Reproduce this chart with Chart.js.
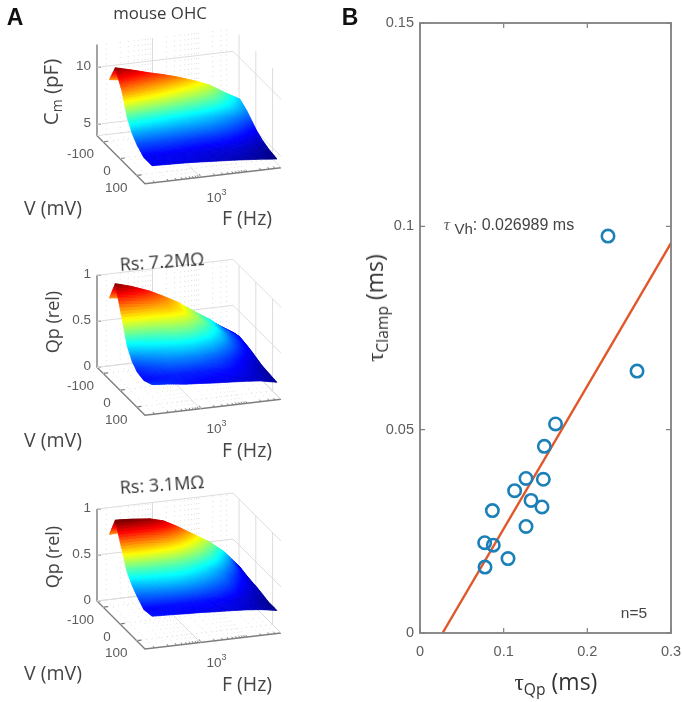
<!DOCTYPE html>
<html>
<head>
<meta charset="utf-8">
<script src="https://cdn.jsdelivr.net/npm/chart.js@4"></script>
<style>
  body { margin: 0; background: #fff; width: 682px; height: 702px; overflow: hidden; position: relative; }
  canvas { position: absolute; filter: blur(0.4px); }
  .wrap { position: absolute; }
  .lbl { position: absolute; white-space: nowrap; transform: translate(-50%, -50%); line-height: 1; }
  .lbl sub { font-size: 0.68em; vertical-align: -0.3em; line-height: 0; }
</style>
</head>
<body>
<script>
// panel A surfaces
const freqs = [90, 200, 500, 1000, 2000, 5000, 10000, 20000, 45000];
const volts = [-105, -70, -30, 0, 30, 60, 100, 150];
const cmValues = [
    [9.3, 9.1, 8.8, 8.5, 8.2, 7.8, 7.4, 6.9, 6.2],
    [10.85, 10.5, 10.05, 9.75, 9.4, 8.85, 8.35, 7.6, 6.8],
    [9.4, 9.0, 8.6, 8.3, 8.0, 7.7, 7.4, 7.0, 6.4],
    [7.6, 7.4, 7.2, 7.05, 6.95, 6.8, 6.6, 6.35, 5.95],
    [6.6, 6.55, 6.5, 6.45, 6.4, 6.3, 6.15, 5.9, 5.5],
    [6.0, 5.98, 5.95, 5.9, 5.85, 5.8, 5.7, 5.5, 5.2],
    [5.5, 5.5, 5.48, 5.45, 5.4, 5.35, 5.3, 5.15, 4.95],
    [5.5, 5.45, 5.4, 5.33, 5.25, 5.15, 5.05, 4.95, 4.8],
];
const qpRs72 = [
    [0.8, 0.78, 0.74, 0.7, 0.64, 0.54, 0.46, 0.37, 0.26],
    [1.02, 0.97, 0.895, 0.82, 0.74, 0.605, 0.51, 0.39, 0.28],
    [0.72, 0.72, 0.73, 0.74, 0.71, 0.59, 0.49, 0.37, 0.265],
    [0.48, 0.52, 0.56, 0.6, 0.6, 0.52, 0.44, 0.34, 0.25],
    [0.36, 0.41, 0.45, 0.47, 0.47, 0.43, 0.37, 0.3, 0.23],
    [0.3, 0.34, 0.38, 0.385, 0.38, 0.35, 0.31, 0.26, 0.21],
    [0.28, 0.29, 0.3, 0.3, 0.3, 0.29, 0.27, 0.24, 0.2],
    [0.325, 0.31, 0.285, 0.275, 0.262, 0.25, 0.24, 0.225, 0.19],
];
const qpRs31 = [
    [0.77, 0.78, 0.76, 0.73, 0.68, 0.58, 0.49, 0.4, 0.29],
    [0.99, 0.98, 0.96, 0.92, 0.84, 0.72, 0.63, 0.51, 0.32],
    [0.74, 0.75, 0.74, 0.72, 0.68, 0.6, 0.52, 0.42, 0.3],
    [0.56, 0.58, 0.58, 0.58, 0.56, 0.5, 0.44, 0.37, 0.29],
    [0.465, 0.485, 0.5, 0.5, 0.48, 0.44, 0.4, 0.34, 0.283],
    [0.4, 0.42, 0.43, 0.43, 0.42, 0.39, 0.36, 0.31, 0.27],
    [0.33, 0.335, 0.34, 0.34, 0.34, 0.33, 0.31, 0.29, 0.25],
    [0.347, 0.34, 0.33, 0.325, 0.315, 0.305, 0.295, 0.28, 0.25],
];
const vTicks = [-100, 0, 100];
const fMajor = [1000];
const fMinor = [100, 200, 300, 400, 500, 600, 700, 800, 900, 2000, 3000, 4000, 5000, 6000, 7000, 8000, 9000, 10000, 20000, 30000, 40000];
const cmTicks = [5, 10];
const qpTicks = [0, 0.5, 1];

// panel B scatter
const tauQp = [0.162, 0.1486, 0.1474, 0.1267, 0.1131, 0.1327, 0.1458, 0.0865, 0.1267, 0.0773, 0.0876, 0.1052, 0.0777, 0.2247, 0.2594];
const tauClamp = [0.0514, 0.0459, 0.0378, 0.038, 0.035, 0.0326, 0.031, 0.0301, 0.0262, 0.0222, 0.0216, 0.0183, 0.0162, 0.0976, 0.0644];
const fitX = [0.026989, 0.3];
const fitY = [0, 0.0959];

const GRID = "#dcdcdc";
const AXIS3D = "#7d7d7d";
const TICKTXT = "#5c5c5c";
const SANS = '"Liberation Sans", Arial, sans-serif';

function jet(t) {
    const c = (x) => Math.round(255 * Math.max(0, Math.min(1, x)));
    t = Math.max(0, Math.min(1, t));
    const r = 1.5 - Math.abs(4 * t - 3);
    const g = 1.5 - Math.abs(4 * t - 2);
    const b = 1.5 - Math.abs(4 * t - 1);
    return `rgb(${c(r)},${c(g)},${c(b)})`;
}

// fills the grid spanned by the row datasets, MATLAB "shading interp" style
const surfacePlugin = {
    id: "surface",
    afterDatasetsDraw(chart) {
        const cfg = chart.data.surface;
        const rows = [];
        chart.data.datasets.forEach((d, i) => {
            if (d.zRow) rows.push({ pts: chart.getDatasetMeta(i).data, z: d.zRow });
        });
        const ctx = chart.ctx;
        const n = 10;
        ctx.save();
        ctx.lineWidth = 0.7;
        for (let r = 0; r < rows.length - 1; r++) {
            for (let c = 0; c < rows[r].pts.length - 1; c++) {
                const p = [rows[r].pts[c], rows[r].pts[c + 1], rows[r + 1].pts[c + 1], rows[r + 1].pts[c]];
                const z = [rows[r].z[c], rows[r].z[c + 1], rows[r + 1].z[c + 1], rows[r + 1].z[c]];
                const at = (a, b, k) => (1 - b) * ((1 - a) * k(0) + a * k(1)) + b * ((1 - a) * k(3) + a * k(2));
                for (let i = 0; i < n; i++) {
                    for (let j = 0; j < n; j++) {
                        const corner = [[i / n, j / n], [(i + 1) / n, j / n], [(i + 1) / n, (j + 1) / n], [i / n, (j + 1) / n]];
                        const zz = at((i + 0.5) / n, (j + 0.5) / n, (k) => z[k]);
                        const col = jet((zz - cfg.cmin) / (cfg.cmax - cfg.cmin));
                        ctx.fillStyle = col;
                        ctx.strokeStyle = col;
                        ctx.beginPath();
                        corner.forEach(([a, b], q) => {
                            const x = at(a, b, (k) => p[k].x);
                            const y = at(a, b, (k) => p[k].y);
                            if (q === 0) ctx.moveTo(x, y);
                            else ctx.lineTo(x, y);
                        });
                        ctx.closePath();
                        ctx.fill();
                        ctx.stroke();
                    }
                }
            }
        }
        ctx.restore();
    },
    afterDraw(chart) {
        const cfg = chart.data.surface;
        const ctx = chart.ctx;
        const sx = chart.scales.x;
        const sy = chart.scales.y;
        const px = (pt) => [sx.getPixelForValue(pt.x), sy.getPixelForValue(pt.y)];
        ctx.save();
        ctx.fillStyle = TICKTXT;
        ctx.font = "13.5px " + SANS;
        ctx.textBaseline = "middle";
        ctx.textAlign = "right";
        cfg.zTicks.forEach((t) => {
            const [x, y] = px(cfg.proj(freqsLow, vBack, t));
            ctx.fillText(String(t), x - 6, y - 1);
        });
        vTicks.forEach((t) => {
            const [x, y] = px(cfg.proj(freqsLow, t, cfg.zFloor));
            ctx.fillText(String(t), x - 9, y + 13);
        });
        const [tx, ty] = px(cfg.proj(1000, vFront, cfg.zFloor));
        ctx.textAlign = "left";
        ctx.fillText("10", tx + 6, ty + 21);
        ctx.font = "9px " + SANS;
        ctx.fillText("3", tx + 21, ty + 15);
        ctx.restore();
    },
};

const freqsLow = Math.pow(10, 1.8);
const freqsHigh = Math.pow(10, 4.74);
const vBack = -136;
const vFront = 150;

function makeProj(base, zFloor, zUnit) {
    return (F, V, z) => {
        const f = (Math.log10(F) - 1.8) / 2.94;
        const v = (V - vBack) / (vFront - vBack);
        return { x: 97 + 136 * f + 48 * v, y: base - 16 * f + 48 * v - zUnit * (z - zFloor) };
    };
}

function seg(pts, color, width, dash) {
    return { data: pts, showLine: true, borderColor: color, borderWidth: width, borderDash: dash || [], pointRadius: 0, fill: false };
}

function panelDatasets(values, proj, zFloor, zTop, zTicks) {
    const ds = [];
    const lines = (F, V, z1, z2) => [proj(F, V, z1), proj(F, V, z2)];
    // back wall and right wall verticals
    fMinor.forEach((F) => ds.push(seg(lines(F, vBack, zFloor, zTop), GRID, 1, [1, 4])));
    fMajor.forEach((F) => ds.push(seg(lines(F, vBack, zFloor, zTop), GRID, 1)));
    vTicks.forEach((V) => ds.push(seg(lines(freqsHigh, V, zFloor, zTop), GRID, 1)));
    // z gridlines round the walls
    zTicks.forEach((t) => {
        ds.push(seg([proj(freqsLow, vBack, t), proj(freqsHigh, vBack, t), proj(freqsHigh, vFront, t)], GRID, 1));
    });
    ds.push(seg([proj(freqsHigh, vBack, zFloor), proj(freqsHigh, vFront, zFloor)], GRID, 1));
    ds.push(seg([proj(freqsLow, vBack, zFloor), proj(freqsHigh, vBack, zFloor)], GRID, 1));
    // floor
    fMinor.forEach((F) => ds.push(seg([proj(F, vBack, zFloor), proj(F, vFront, zFloor)], GRID, 1, [1, 4])));
    fMajor.forEach((F) => ds.push(seg([proj(F, vBack, zFloor), proj(F, vFront, zFloor)], GRID, 1)));
    vTicks.forEach((V) => ds.push(seg([proj(freqsLow, V, zFloor), proj(freqsHigh, V, zFloor)], GRID, 1, [1, 4])));
    // axes
    ds.push(seg([proj(freqsLow, vBack, zTop), proj(freqsLow, vBack, zFloor), proj(freqsLow, vFront, zFloor), proj(freqsHigh, vFront, zFloor)], AXIS3D, 1.4));
    zTicks.forEach((t) => {
        const a = proj(freqsLow, vBack, t);
        ds.push(seg([a, { x: a.x + 4, y: a.y }], AXIS3D, 1.2));
    });
    vTicks.forEach((V) => {
        const a = proj(freqsLow, V, zFloor);
        ds.push(seg([a, { x: a.x + 5, y: a.y - 0.5 }], AXIS3D, 1.2));
    });
    fMinor.concat(fMajor).forEach((F) => {
        const a = proj(F, vFront, zFloor);
        ds.push(seg([a, { x: a.x - 1, y: a.y - (fMajor.includes(F) ? 3 : 2) }], AXIS3D, 1));
    });
    // surface rows
    volts.forEach((V, r) => {
        ds.push({
            data: freqs.map((F, c) => proj(F, V, values[r][c])),
            zRow: values[r],
            showLine: false,
            pointRadius: 0,
        });
    });
    return ds;
}

function surfaceChart(top, height, values, base, zFloor, zTop, zUnit, zTicks, cmin, cmax) {
    const canvas = document.createElement("canvas");
    const wrap = document.createElement("div");
    wrap.className = "wrap";
    wrap.style.cssText = `left:0;top:${top}px;width:320px;height:${height}px`;
    wrap.appendChild(canvas);
    document.body.appendChild(wrap);
    const proj = makeProj(base, zFloor, zUnit);
    return new Chart(canvas, {
        type: "scatter",
        data: {
            datasets: panelDatasets(values, proj, zFloor, zTop, zTicks),
            surface: { cmin, cmax, proj, zTicks, zFloor },
        },
        plugins: [surfacePlugin],
        options: {
            responsive: true,
            maintainAspectRatio: false,
            animation: false,
            layout: { padding: 0 },
            scales: {
                x: { type: "linear", display: false, min: 0, max: 320 },
                y: { type: "linear", display: false, min: 0, max: height, reverse: true },
            },
            plugins: { legend: { display: false }, tooltip: { enabled: false } },
        },
    });
}

surfaceChart(0, 232, cmValues, 135.7, 4, 12, 11.4, cmTicks, 4.8, 10.9);
surfaceChart(232, 233, qpRs72, 135.3, 0, 1, 92, qpTicks, 0.17, 1.02);
surfaceChart(465, 237, qpRs31, 136, 0, 1, 92, qpTicks, 0.24, 0.97);

// panel B
const boxPlugin = {
    id: "boxTicks",
    afterDraw(chart) {
        const { ctx, chartArea: a, scales } = chart;
        ctx.save();
        ctx.strokeStyle = "#808080";
        ctx.lineWidth = 1.8;
        ctx.strokeRect(a.left, a.top, a.right - a.left, a.bottom - a.top);
        ctx.lineWidth = 1.2;
        ctx.beginPath();
        scales.x.ticks.forEach((t) => {
            const x = scales.x.getPixelForValue(t.value);
            ctx.moveTo(x, a.bottom); ctx.lineTo(x, a.bottom - 5);
            ctx.moveTo(x, a.top); ctx.lineTo(x, a.top + 5);
        });
        scales.y.ticks.forEach((t) => {
            const y = scales.y.getPixelForValue(t.value);
            ctx.moveTo(a.left, y); ctx.lineTo(a.left + 5, y);
            ctx.moveTo(a.right, y); ctx.lineTo(a.right - 5, y);
        });
        ctx.stroke();
        ctx.restore();
    },
};

const wrapB = document.createElement("div");
wrapB.className = "wrap";
wrapB.style.cssText = "left:360px;top:0;width:322px;height:702px";
const canvasB = document.createElement("canvas");
wrapB.appendChild(canvasB);
document.body.appendChild(wrapB);

const tickFmt = (v) => String(+v.toFixed(2));
new Chart(canvasB, {
    type: "scatter",
    data: {
        datasets: [
            {
                data: tauQp.map((x, i) => ({ x, y: tauClamp[i] })),
                order: 1,
                pointRadius: 6.2,
                pointBorderWidth: 2.6,
                pointBorderColor: "#1b80b8",
                pointBackgroundColor: "transparent",
            },
            {
                data: fitX.map((x, i) => ({ x, y: fitY[i] })),
                order: 2,
                showLine: true,
                borderColor: "#e0582a",
                borderWidth: 2.4,
                pointRadius: 0,
            },
        ],
    },
    plugins: [boxPlugin],
    options: {
        responsive: true,
        maintainAspectRatio: false,
        animation: false,
        layout: { padding: { top: 23, right: 11, left: 0, bottom: 0 } },
        scales: {
            x: {
                min: 0, max: 0.3,
                grid: { display: false, drawTicks: false },
                border: { display: false },
                afterFit: (s) => { s.height = 69; s.paddingRight = 0; s.paddingLeft = 0; },
                ticks: { stepSize: 0.1, color: TICKTXT, padding: 10, maxRotation: 0, font: { size: 14.5, family: SANS }, callback: tickFmt },
            },
            y: {
                min: 0, max: 0.15,
                grid: { display: false, drawTicks: false },
                border: { display: false },
                afterFit: (s) => { s.width = 60; s.paddingTop = 0; s.paddingBottom = 0; },
                ticks: { stepSize: 0.05, color: TICKTXT, padding: 6, font: { size: 14.5, family: SANS }, callback: tickFmt },
            },
        },
        plugins: { legend: { display: false }, tooltip: { enabled: false } },
    },
});

// text labels
function label(html, x, y, size, color, rot, font, weight) {
    const el = document.createElement("div");
    el.className = "lbl";
    el.innerHTML = html;
    el.style.left = x + "px";
    el.style.top = y + "px";
    el.style.fontSize = size + "px";
    el.style.color = color;
    el.style.fontFamily = font || '"Open Sans", sans-serif';
    if (weight) el.style.fontWeight = weight;
    if (rot) el.style.transform = `translate(-50%,-50%) rotate(${rot}deg)`;
    document.body.appendChild(el);
}

const DARK = "#454545";
label("A", 15, 17, 23, "#111", 0, SANS, "bold");
label("B", 350, 17, 23, "#111", 0, SANS, "bold");
label("mouse OHC", 160, 13, 16.8, "#3a3a3a");
label("Rs: 7.2MΩ", 162, 261, 18, "#333", -4);
label("Rs: 3.1MΩ", 162, 484, 18, "#333", -4);
label("C<sub>m</sub> (pF)", 50, 92, 20.5, DARK, -90);
label("Qp (rel)", 52, 322, 18, DARK, -90);
label("Qp (rel)", 52, 557, 18, DARK, -90);
[208, 440, 673].forEach((y) => label("V (mV)", 53, y, 19.5, DARK));
[218, 450, 684].forEach((y) => label("F (Hz)", 247, y, 19.5, DARK));

label('<span style="font-family:\'Liberation Serif\'">τ</span><sub>Clamp</sub> (ms)', 375, 308, 23, "#333", -90);
label('<span style="font-family:\'Liberation Serif\'">τ</span><sub>Qp</sub> (ms)', 556, 682, 23, "#333");
label('<i style="font-family:\'Liberation Serif\';font-size:17px;color:#666">τ</i>&nbsp;<sub style="color:#444;font-size:15px">Vh</sub>: 0.026989 ms', 509, 224, 16, "#444", 0, SANS);
label("n=5", 634, 613, 15.5, "#444", 0, SANS);
</script>
</body>
</html>
